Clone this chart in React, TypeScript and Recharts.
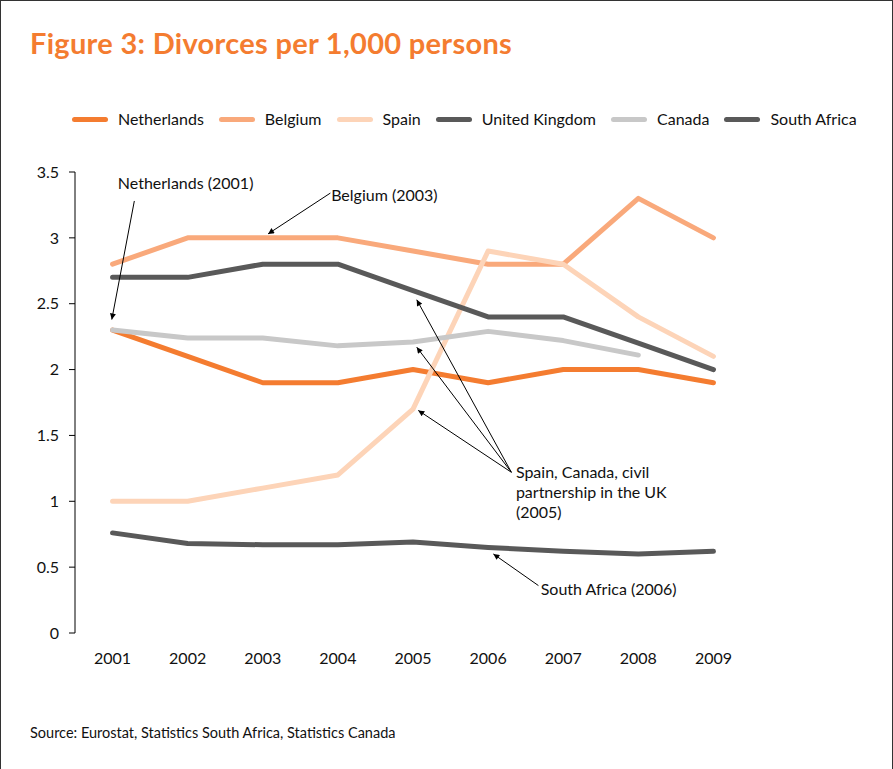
import { LineChart, Line, XAxis, YAxis, ReferenceLine, ReferenceDot } from 'recharts';

const years = [2001, 2002, 2003, 2004, 2005, 2006, 2007, 2008, 2009];
const yearBounds = [2000.5, 2001.5, 2002.5, 2003.5, 2004.5, 2005.5, 2006.5, 2007.5, 2008.5, 2009.5];
const yTicks = [0, 0.5, 1, 1.5, 2, 2.5, 3, 3.5];

const netherlands = [2.3, 2.1, 1.9, 1.9, 2.0, 1.9, 2.0, 2.0, 1.9];
const belgium = [2.8, 3.0, 3.0, 3.0, 2.9, 2.8, 2.8, 3.3, 3.0];
const spain = [1.0, 1.0, 1.1, 1.2, 1.7, 2.9, 2.8, 2.4, 2.1];
const unitedKingdom = [2.7, 2.7, 2.8, 2.8, 2.6, 2.4, 2.4, 2.2, 2.0];
const canada = [2.3, 2.24, 2.24, 2.18, 2.21, 2.29, 2.22, 2.11, null];
const southAfrica = [0.76, 0.68, 0.67, 0.67, 0.69, 0.65, 0.62, 0.6, 0.62];

const series = [
  { key: 'netherlands', name: 'Netherlands', color: '#f47c30', values: netherlands },
  { key: 'belgium', name: 'Belgium', color: '#f9a97b', values: belgium },
  { key: 'spain', name: 'Spain', color: '#fdd4b8', values: spain },
  { key: 'uk', name: 'United Kingdom', color: '#595959', values: unitedKingdom },
  { key: 'canada', name: 'Canada', color: '#c8c8c8', values: canada },
  { key: 'southAfrica', name: 'South Africa', color: '#595959', values: southAfrica },
];

// callout texts and arrows, in (year, value) coordinates
const notes = [
  { lines: ['Netherlands (2001)'], x: 2001.07, y: 3.37 },
  { lines: ['Belgium (2003)'], x: 2003.91, y: 3.28 },
  { lines: ['Spain, Canada, civil', 'partnership in the UK', '(2005)'], x: 2006.37, y: 1.18 },
  { lines: ['South Africa (2006)'], x: 2006.7, y: 0.29 },
];
const arrows = [
  { from: [2001.29, 3.28], to: [2000.99, 2.38] },
  { from: [2003.9, 3.34], to: [2003.07, 3.03] },
  { from: [2006.31, 1.22], to: [2005.05, 2.53] },
  { from: [2006.31, 1.22], to: [2005.05, 2.17] },
  { from: [2006.31, 1.22], to: [2005.07, 1.69] },
  { from: [2006.67, 0.36], to: [2006.07, 0.6] },
];

const FONT = 'Lato, "Open Sans", sans-serif';

const data = years.map((year, i) => {
  const row: Record<string, number | null> = { year };
  series.forEach((s) => {
    row[s.key] = s.values[i];
  });
  return row;
});

export default function App() {
  return (
    <div style={{ position: 'relative', width: 893, height: 769, background: '#fff', fontFamily: FONT }}>
      <style>{'body { margin: 0; }'}</style>
      <svg width={0} height={0} style={{ position: 'absolute' }}>
        <defs>
          <marker
            id="arrowHead"
            viewBox="0 0 10 10"
            refX={10}
            refY={5}
            markerWidth={7}
            markerHeight={6}
            markerUnits="userSpaceOnUse"
            orient="auto"
          >
            <path d="M0,0 L10,5 L0,10 z" fill="#000" />
          </marker>
        </defs>
      </svg>

      <div
        style={{
          position: 'absolute',
          inset: 0,
          borderTop: '1px solid #333',
          borderLeft: '1px solid #333',
          borderRight: '1px solid #333',
          pointerEvents: 'none',
        }}
      />

      <div
        style={{
          position: 'absolute',
          left: 30,
          top: 28,
          fontSize: 29,
          lineHeight: '29px',
          fontWeight: 700,
          letterSpacing: 0.3,
          color: '#f47c30',
          whiteSpace: 'nowrap',
        }}
      >
        Figure 3: Divorces per 1,000 persons
      </div>

      <div
        style={{
          position: 'absolute',
          left: 72,
          top: 111,
          display: 'flex',
          alignItems: 'center',
          gap: 15,
          fontSize: 16,
          lineHeight: '16px',
          color: '#111',
          whiteSpace: 'nowrap',
        }}
      >
        {series.map((s) => (
          <div key={s.key} style={{ display: 'flex', alignItems: 'center' }}>
            <span
              style={{ display: 'inline-block', width: 36, height: 5, borderRadius: 3, background: s.color, marginRight: 10 }}
            />
            <span>{s.name}</span>
          </div>
        ))}
      </div>

      <div style={{ position: 'absolute', left: 0, top: 0 }}>
        <LineChart width={893} height={769} data={data} margin={{ top: 172, right: 142, bottom: 106, left: 0 }}>
          <XAxis
            xAxisId="bounds"
            dataKey="year"
            type="number"
            domain={[2000.5, 2009.5]}
            ticks={yearBounds}
            interval={0}
            height={0}
            tickSize={6}
            tickFormatter={() => ''}
            stroke="#000"
            allowDataOverflow
          />
          <XAxis
            xAxisId="years"
            dataKey="year"
            type="number"
            domain={[2000.5, 2009.5]}
            ticks={years}
            interval={0}
            height={30}
            axisLine={false}
            tickLine={false}
            tickSize={6}
            tickMargin={14}
            tick={{ fill: '#111', fontSize: 16, fontFamily: FONT }}
            allowDataOverflow
          />
          <YAxis
            domain={[0, 3.5]}
            ticks={yTicks}
            interval={0}
            width={75}
            tickSize={6}
            tickMargin={10}
            stroke="#000"
            tick={{ fill: '#111', fontSize: 16, fontFamily: FONT }}
          />
          {series.map((s) => (
            <Line
              key={s.key}
              xAxisId="years"
              dataKey={s.key}
              name={s.name}
              stroke={s.color}
              strokeWidth={5}
              strokeLinecap="round"
              strokeLinejoin="round"
              dot={false}
              activeDot={false}
              isAnimationActive={false}
            />
          ))}
          {arrows.map((a, i) => (
            <ReferenceLine
              key={`arrow-${i}`}
              xAxisId="years"
              segment={[
                { x: a.from[0], y: a.from[1] },
                { x: a.to[0], y: a.to[1] },
              ]}
              shape={(p: any) => (
                <line x1={p.x1} y1={p.y1} x2={p.x2} y2={p.y2} stroke="#000" strokeWidth={1} markerEnd="url(#arrowHead)" />
              )}
            />
          ))}
          {notes.map((n, i) => (
            <ReferenceDot
              key={`note-${i}`}
              xAxisId="years"
              x={n.x}
              y={n.y}
              r={0}
              shape={(p: any) => (
                <text x={p.cx} y={p.cy} fontSize={16} fontFamily={FONT} fill="#111">
                  {n.lines.map((line, j) => (
                    <tspan key={j} x={p.cx} dy={j === 0 ? 0 : 20}>
                      {line}
                    </tspan>
                  ))}
                </text>
              )}
            />
          ))}
        </LineChart>
      </div>

      <div
        style={{
          position: 'absolute',
          left: 30,
          top: 726,
          fontSize: 14.5,
          lineHeight: '14px',
          color: '#111',
          whiteSpace: 'nowrap',
        }}
      >
        Source: Eurostat, Statistics South Africa, Statistics Canada
      </div>
    </div>
  );
}
